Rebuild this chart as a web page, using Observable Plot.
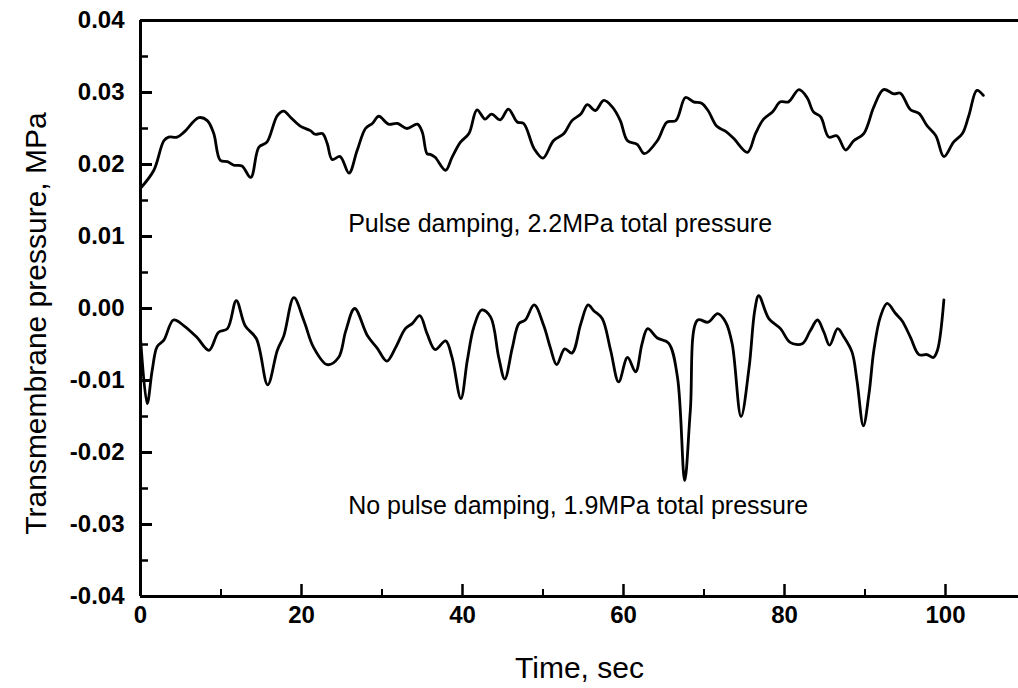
<!DOCTYPE html>
<html>
<head>
<meta charset="utf-8">
<script src="https://cdn.jsdelivr.net/npm/d3@7"></script>
<script src="https://cdn.jsdelivr.net/npm/@observablehq/plot@0.6"></script>
<style>
  html, body { margin: 0; padding: 0; background: #fff; }
  #chart svg { display: block; }
</style>
</head>
<body>
<div id="chart"></div>
<script>
// Pulse damping run, 2.2 MPa total pressure
const timeDamped = [0, 1.66, 2.9, 3.5, 4.55, 5.4, 7.25, 8.3, 9.1, 9.9, 10.8, 11.6, 12.6, 13.7, 14.7, 15.7, 17.0, 17.8, 18.6, 19.9, 21.1, 21.7, 22.6, 23.2, 23.8, 24.8, 25.9, 26.9, 27.95, 28.8, 29.6, 30.8, 31.9, 33.1, 34.4, 35.0, 35.6, 36.0, 36.6, 37.9, 38.7, 39.75, 40.8, 41.8, 42.8, 43.6, 44.7, 45.7, 46.8, 47.6, 48.9, 50.0, 51.3, 52.6, 53.6, 54.7, 55.5, 56.5, 57.55, 58.6, 59.6, 60.5, 61.7, 62.6, 64.2, 65.4, 66.5, 67.7, 68.7, 69.7, 70.5, 71.6, 72.7, 73.7, 75.4, 76.4, 77.4, 78.5, 79.5, 80.5, 81.8, 82.8, 83.6, 84.5, 85.5, 86.5, 87.6, 88.6, 89.85, 91.1, 92.3, 93.6, 94.4, 95.65, 96.7, 97.7, 98.8, 99.8, 101.0, 102.1, 102.9, 103.9, 104.7];
const pressureDamped = [0.0167, 0.0192, 0.0233, 0.0238, 0.0238, 0.0245, 0.0265, 0.0261, 0.0243, 0.0206, 0.0204, 0.0199, 0.0198, 0.0182, 0.0224, 0.0231, 0.0268, 0.0274, 0.0266, 0.0253, 0.0247, 0.0242, 0.0243, 0.0229, 0.0207, 0.0211, 0.0188, 0.0219, 0.0250, 0.0257, 0.0267, 0.0256, 0.0257, 0.0250, 0.0256, 0.0245, 0.0215, 0.0214, 0.0210, 0.0192, 0.0210, 0.0231, 0.0243, 0.0276, 0.0263, 0.0270, 0.0262, 0.0277, 0.0259, 0.0257, 0.0222, 0.0209, 0.0233, 0.0243, 0.0261, 0.0270, 0.0283, 0.0275, 0.0289, 0.0280, 0.0261, 0.0233, 0.0228, 0.0215, 0.0233, 0.0259, 0.0261, 0.0293, 0.0287, 0.0285, 0.0275, 0.0253, 0.0246, 0.0236, 0.0217, 0.0243, 0.0263, 0.0273, 0.0287, 0.0287, 0.0304, 0.0293, 0.0273, 0.0266, 0.0238, 0.0240, 0.0220, 0.0233, 0.0243, 0.0280, 0.0304, 0.0298, 0.0299, 0.0276, 0.0271, 0.0254, 0.0240, 0.0211, 0.0231, 0.0243, 0.0268, 0.0303, 0.0296];

// No pulse damping run, 1.9 MPa total pressure
const timeUndamped = [0, 0.83, 1.45, 2.07, 2.9, 4.1, 5.4, 7.0, 8.5, 9.7, 10.8, 11.9, 13.0, 14.4, 15.8, 17.0, 17.8, 19.05, 20.3, 21.5, 23.2, 24.6, 25.5, 26.6, 28.2, 29.4, 30.6, 31.7, 32.9, 33.75, 34.7, 35.6, 36.6, 37.9, 38.7, 39.8, 40.6, 41.4, 42.4, 43.5, 44.5, 45.25, 46.2, 47.0, 47.8, 48.9, 50.1, 50.9, 51.7, 52.7, 53.6, 54.7, 55.6, 56.3, 57.35, 58.4, 59.4, 60.5, 61.5, 62.3, 63.0, 64.2, 65.6, 66.7, 67.6, 68.3, 69.2, 70.5, 71.7, 72.7, 73.5, 74.6, 75.6, 76.3, 76.8, 78.05, 79.5, 80.7, 82.2, 83.2, 84.1, 84.9, 85.6, 86.6, 87.4, 88.4, 89.0, 89.8, 90.5, 91.1, 91.9, 92.75, 93.8, 94.6, 95.65, 96.7, 97.7, 98.5, 99.0, 99.8];
const pressureUndamped = [-0.0040, -0.0132, -0.0086, -0.0053, -0.0044, -0.0016, -0.0024, -0.0040, -0.0058, -0.0033, -0.0028, 0.0011, -0.0024, -0.0042, -0.0106, -0.0058, -0.0038, 0.0015, -0.0017, -0.0054, -0.0078, -0.0068, -0.0031, 0.0000, -0.0038, -0.0055, -0.0073, -0.0054, -0.0028, -0.0021, -0.0010, -0.0035, -0.0057, -0.0045, -0.0068, -0.0125, -0.0072, -0.0026, -0.0002, -0.0012, -0.0068, -0.0098, -0.0054, -0.0021, -0.0016, 0.0005, -0.0024, -0.0054, -0.0078, -0.0056, -0.0062, -0.0021, 0.0005, -0.0003, -0.0014, -0.0058, -0.0102, -0.0068, -0.0088, -0.0049, -0.0028, -0.0041, -0.0048, -0.0095, -0.0239, -0.0142, -0.0016, -0.0019, -0.0007, -0.0019, -0.0049, -0.0150, -0.0082, -0.0003, 0.0018, -0.0014, -0.0028, -0.0047, -0.0049, -0.0031, -0.0016, -0.0033, -0.0051, -0.0028, -0.0040, -0.0061, -0.0100, -0.0163, -0.0118, -0.0058, -0.0012, 0.0007, -0.0007, -0.0017, -0.0040, -0.0064, -0.0064, -0.0068, -0.0058, 0.0012];

// Axis ticks
const xMajorTicks = [0, 20, 40, 60, 80, 100];
const xMinorTicks = [10, 30, 50, 70, 90];
const yMajorTicks = [-0.04, -0.03, -0.02, -0.01, 0.00, 0.01, 0.02, 0.03, 0.04];
const yMinorTicks = [-0.035, -0.025, -0.015, -0.005, 0.005, 0.015, 0.025, 0.035];

// Curve annotations
const annotationText = ["Pulse damping, 2.2MPa total pressure", "No pulse damping, 1.9MPa total pressure"];
const annotationTime = [25.8, 25.8];
const annotationPressure = [0.0118, -0.0274];

const damped = timeDamped.map((t, i) => ({t, p: pressureDamped[i]}));
const undamped = timeUndamped.map((t, i) => ({t, p: pressureUndamped[i]}));
const annotations = annotationText.map((text, i) => ({text, t: annotationTime[i], p: annotationPressure[i]}));

const xDomain = [0, 110];
const yDomain = [-0.04, 0.04];
const pxPerSec = (1025.5 - 140) / (xDomain[1] - xDomain[0]);
const pxPerMPa = (596 - 20) / (yDomain[1] - yDomain[0]);

const chart = Plot.plot({
  width: 1018,
  height: 688,
  marginLeft: 140,
  marginRight: 0,
  marginTop: 20,
  marginBottom: 92,
  x: {domain: xDomain, range: [140, 1025.5]},
  y: {domain: yDomain, range: [596, 20]},
  style: {fontFamily: "'Liberation Sans', Arial, Helvetica, sans-serif", color: "#000", background: "#fff"},
  marks: [
    // frame: left, bottom and top edges
    Plot.ruleY(yDomain, {stroke: "#000", strokeWidth: 3}),
    Plot.ruleX([0], {stroke: "#000", strokeWidth: 3}),
    // inward ticks on the left axis
    Plot.ruleY(yMajorTicks, {x1: 0, x2: 12 / pxPerSec, stroke: "#000", strokeWidth: 3}),
    Plot.ruleY(yMinorTicks, {x1: 0, x2: 8 / pxPerSec, stroke: "#000", strokeWidth: 2.5}),
    // inward ticks on the bottom axis
    Plot.ruleX(xMajorTicks, {y1: -0.04, y2: -0.04 + 12 / pxPerMPa, stroke: "#000", strokeWidth: 2.5}),
    Plot.ruleX(xMinorTicks, {y1: -0.04, y2: -0.04 + 7 / pxPerMPa, stroke: "#000", strokeWidth: 2}),
    Plot.axisY({ticks: yMajorTicks, tickSize: 0, tickPadding: 16, tickFormat: d => d.toFixed(2), fontSize: 24, fontWeight: "bold", label: null}),
    Plot.axisX({ticks: xMajorTicks, tickSize: 0, tickPadding: 9, tickFormat: d => String(d), fontSize: 24, fontWeight: "bold", label: null}),
    Plot.text(["Transmembrane pressure, MPa"], {frameAnchor: "left", textAnchor: "middle", lineAnchor: "middle", dx: -104, dy: 15, rotate: -90, fontSize: 30, fill: "#000"}),
    Plot.text(["Time, sec"], {frameAnchor: "bottom", textAnchor: "middle", lineAnchor: "middle", dy: 72, fontSize: 30, fill: "#000"}),
    Plot.line(damped, {x: "t", y: "p", curve: "catmull-rom", stroke: "#000", strokeWidth: 2.8}),
    Plot.line(undamped, {x: "t", y: "p", curve: "catmull-rom", stroke: "#000", strokeWidth: 2.8}),
    Plot.text(annotations, {x: "t", y: "p", text: "text", textAnchor: "start", fontSize: 25, fill: "#000"})
  ]
});

document.getElementById("chart").appendChild(chart);
</script>
</body>
</html>
